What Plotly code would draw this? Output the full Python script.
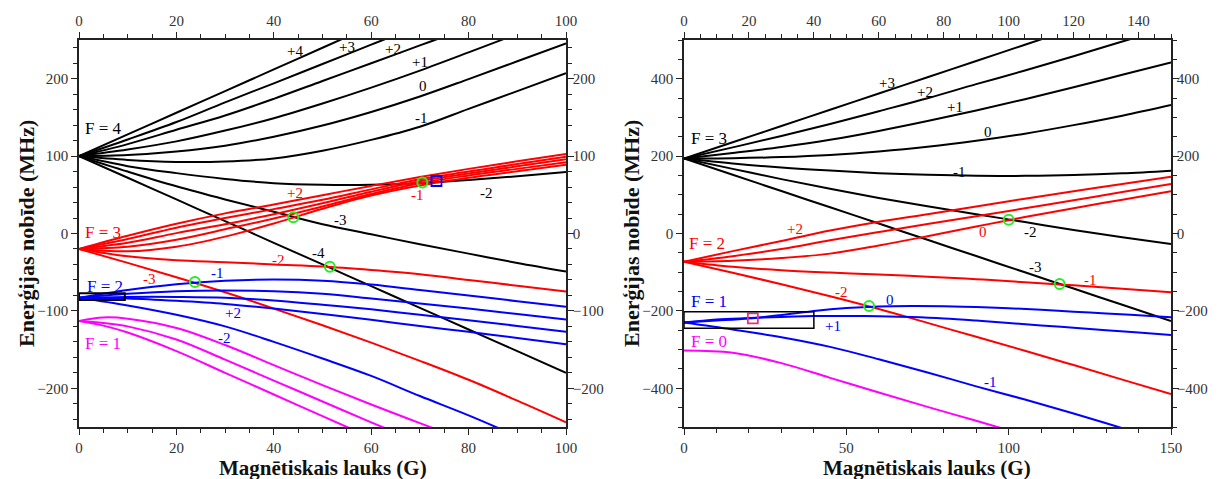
import plotly.graph_objects as go

# ---------------- LEFT PANEL DATA (field in G, energy in MHz) ----------------
B_L = [0, 10, 20, 30, 40, 50, 60, 70, 80, 90, 100]
L_F4_m = ["+4", "+3", "+2", "+1", "0", "-1", "-2", "-3", "-4"]
L_F4 = [
    [100, 128, 156, 184, 212, 240, 268, 296, 324, 352, 380],
    [100, 121.5, 144, 169.5, 194, 219, 244, 269, 296, 323, 350],
    [100, 115.5, 134, 152.5, 174, 197, 220, 243, 266, 290, 314],
    [100, 108.5, 119, 133, 149, 168, 188.5, 210.5, 234, 258, 282],
    [100, 101.5, 106, 113.5, 125, 139.5, 157, 177, 199.5, 222.5, 245.7],
    [100, 95, 92.5, 93, 97, 107, 121, 138, 161, 184, 207],
    [100, 87, 78, 70.5, 65, 63, 63, 65, 69, 74, 79.5],
    [100, 80, 61, 44, 28, 12, -1, -14, -26, -38, -49],
    [100, 72, 44, 16, -12, -40, -68, -96, -124, -152, -180],
]
L_F3_m = ["+3", "+2", "+1", "0", "-1", "-2", "-3"]
L_F3 = [
    [-20, -3, 12.5, 26, 37.5, 49.5, 61.5, 73, 83.5, 93.3, 102.7],
    [-20, -7, 7.5, 20, 31.5, 43.5, 57, 70, 80, 89.8, 99.2],
    [-20, -12, 0.5, 12, 25, 39, 54, 67.5, 77.5, 86.8, 95.9],
    [-20, -17, -8, 5.5, 19.5, 35, 51, 65, 75, 83.5, 92],
    [-20, -23, -17, -4, 13, 32, 49, 62, 72, 80.5, 88.9],
    [-20, -29.5, -34.5, -37, -40, -42.5, -47, -52.5, -60, -67.5, -75],
    [-20, -38, -56.5, -76, -97, -118.5, -141, -164.5, -189, -216, -244],
]
L_F2_m = ["-1", "0", "+1", "+2", "-2"]
L_F2 = [
    [-83, -73, -65.5, -61, -59.5, -61, -66, -73, -80, -87.5, -94.5],
    [-83, -78, -74.5, -73.5, -74.5, -78, -84, -90.5, -97, -104, -111],
    [-83, -82, -82, -83, -86.5, -92, -98, -105, -112, -119.5, -127],
    [-83, -84, -87, -91, -97, -104, -111.5, -119.5, -127, -135, -143],
    [-83, -93, -105, -120, -140, -161.5, -184, -210, -235, -262, -290],
]
B_L_F1 = [0, 5, 10, 20, 30, 40, 50, 60, 70, 80]
L_F1 = [
    [-113, -108.5, -110, -122, -144, -170, -196, -221, -245, -269],
    [-113, -115.5, -120, -137, -163, -190, -217, -244, -270, -296],
    [-113, -119, -128, -152, -180, -208, -236, -264, -292, -320],
]
L_circles_B = [23.8, 44.0, 51.5, 70.5]
L_circles_E = [-62.7, 20.9, -42.9, 66]
L_square_B = [73.4]
L_square_E = [67.8]
L_rect = [0, 9.4, -86, -77.3]

# ---------------- RIGHT PANEL DATA ----------------
B_R = [0, 15, 30, 45, 60, 75, 90, 105, 120, 135, 150]
R_F3_m = ["+3", "+2", "+1", "0", "-1", "-2", "-3"]
R_F3 = [
    [193.7, 235.7, 277.7, 319.7, 361.7, 403.7, 445.7, 487.7, 529.7, 571.7, 613.7],
    [193.7, 222.5, 252, 283, 316, 349.5, 386, 421, 458, 496, 534],
    [193.7, 208, 223.5, 242, 265, 290.5, 318, 347, 378, 410, 442],
    [193.7, 194.5, 197.5, 203, 212, 224, 239.5, 258, 280, 304.5, 332],
    [193.7, 181, 170.5, 162.5, 156, 151.5, 149, 149, 151, 155.5, 162.4],
    [193.7, 167, 140.5, 115.5, 92, 70.5, 50, 29.5, 9, -9.5, -27],
    [193.7, 151.7, 109.7, 67.7, 25.7, -16.3, -58.3, -100.3, -142.3, -184.3, -226.3],
]
R_F2_m = ["+2", "+1", "0", "-1", "-2"]
R_F2 = [
    [-72.9, -45.5, -19.5, 7.5, 30.5, 50, 70, 90, 109, 128, 146.8],
    [-72.9, -58.5, -40, -17.5, 3.7, 24.3, 44.8, 65, 86, 107, 127.9],
    [-72.9, -70.5, -63.5, -52, -31, -7, 18, 42.5, 65.5, 87.5, 109],
    [-72.9, -86, -95, -101, -106, -111.5, -118, -126, -134, -143, -152],
    [-72.9, -101.5, -131, -162, -195, -231, -267, -303, -340, -377.5, -414.7],
]
B_R_F1 = [0, 10, 20, 30, 40, 50, 60, 70, 80, 90, 100, 110, 120, 130, 140, 150]
R_F1_p1 = [-229.9, -222, -218.5, -215.5, -213.5, -213, -214, -216, -219.5, -225, -231.5, -237.5, -243.5, -250, -256, -262.3]
R_F1_0 = [-229.9, -225, -219.5, -210.5, -200, -192.5, -188.5, -187.5, -188, -190, -193, -197, -202, -206.5, -211.5, -216.6]
R_F1_m1 = [-229.9, -248, -268, -293, -325, -359, -395, -429, -465, -503, -541]
R_F0 = [-302.1, -308, -335, -373, -411, -448, -484, -521, -558, -595, -632]
R_circles_B = [57, 100, 115.7]
R_circles_E = [-187.3, 35.5, -130.5]
R_square_B = [21.2]
R_square_E = [-219.1]
R_rect = [0, 40, -245, -202]

BLACK, RED, BLUE, MAG = "#000000", "#ff0000", "#0000ff", "#ff00ff"
FONT = "Liberation Serif"
# the page body has an 8 px margin, so the figure is 8 px smaller and all
# pixel positions below are taken from the window and shifted by 8 px
OFF = 8
W, H = 1218 - OFF, 479 - OFF

fig = go.Figure()


def curve(xs, ys, color, xa, ya):
    fig.add_trace(go.Scatter(x=xs, y=ys, mode="lines", xaxis=xa, yaxis=ya,
                             line=dict(color=color, width=2, shape="spline", smoothing=1.0),
                             showlegend=False, hoverinfo="skip"))


for ys in L_F4:
    curve(B_L, ys, BLACK, "x", "y")
for ys in L_F3:
    curve(B_L, ys, RED, "x", "y")
for ys in L_F2:
    curve(B_L, ys, BLUE, "x", "y")
for ys in L_F1:
    curve(B_L_F1, ys, MAG, "x", "y")

for ys in R_F3:
    curve(B_R, ys, BLACK, "x2", "y2")
for ys in R_F2:
    curve(B_R, ys, RED, "x2", "y2")
curve(B_R_F1, R_F1_p1, BLUE, "x2", "y2")
curve(B_R_F1, R_F1_0, BLUE, "x2", "y2")
curve(B_R, R_F1_m1, BLUE, "x2", "y2")
curve(B_R, R_F0, MAG, "x2", "y2")

# markers
fig.add_trace(go.Scatter(x=L_circles_B, y=L_circles_E, mode="markers", xaxis="x", yaxis="y",
                         marker=dict(symbol="circle-open", size=10, color="#22ee22", line=dict(width=2)),
                         showlegend=False, hoverinfo="skip"))
fig.add_trace(go.Scatter(x=L_square_B, y=L_square_E, mode="markers", xaxis="x", yaxis="y",
                         marker=dict(symbol="square-open", size=10, color=BLUE, line=dict(width=1.8)),
                         showlegend=False, hoverinfo="skip"))
fig.add_trace(go.Scatter(x=R_circles_B, y=R_circles_E, mode="markers", xaxis="x2", yaxis="y2",
                         marker=dict(symbol="circle-open", size=10, color="#22ee22", line=dict(width=2)),
                         showlegend=False, hoverinfo="skip"))
fig.add_trace(go.Scatter(x=R_square_B, y=R_square_E, mode="markers", xaxis="x2", yaxis="y2",
                         marker=dict(symbol="square-open", size=10, color="#e8307a", line=dict(width=1.8)),
                         showlegend=False, hoverinfo="skip"))

# dummy traces for mirrored axes with labels
for xa, ya in (("x3", "y3"), ("x4", "y4")):
    fig.add_trace(go.Scatter(x=[0], y=[0], xaxis=xa, yaxis=ya, mode="markers",
                             marker=dict(opacity=0), showlegend=False, hoverinfo="skip"))

fig.add_shape(type="rect", xref="x", yref="y", x0=L_rect[0], x1=L_rect[1], y0=L_rect[2], y1=L_rect[3],
              line=dict(color=BLACK, width=2))
fig.add_shape(type="rect", xref="x2", yref="y2", x0=R_rect[0], x1=R_rect[1], y0=R_rect[2], y1=R_rect[3],
              line=dict(color=BLACK, width=1.5))

# ---------------- axes ----------------
px = lambda v: (v - OFF) / W
py = lambda v: 1 - (v - OFF) / H
LX = [px(79), px(566)]
RX = [px(684), px(1171)]
YD = [py(427), py(40)]
tickfont = dict(family=FONT, size=15, color="#333")
common = dict(showgrid=False, zeroline=False, showline=True, linecolor="#222", linewidth=1.5,
              ticks="outside", ticklen=6, tickwidth=1.2, tickcolor="#222", tickfont=tickfont,
              automargin=False)


def minor(d):
    return dict(dtick=d, ticklen=4, ticks="outside", tickcolor="#222", tickwidth=1, showgrid=False)


fig.update_layout(
    width=W, height=H, margin=dict(l=0, r=0, t=0, b=0),
    paper_bgcolor="white", plot_bgcolor="white", showlegend=False,
    xaxis=dict(domain=LX, range=[0, 100], anchor="y", dtick=20, minor=minor(5), **common),
    xaxis3=dict(overlaying="x", side="top", range=[0, 100], anchor="y", dtick=20, minor=minor(5), **common),
    yaxis=dict(domain=YD, range=[-250, 250], anchor="x", dtick=100, minor=minor(20), **common),
    yaxis3=dict(overlaying="y", side="right", range=[-250, 250], anchor="x", dtick=100, minor=minor(20),
                ticklabelstandoff=-4, **common),
    xaxis2=dict(domain=RX, range=[0, 150], anchor="y2", dtick=50, minor=minor(10), **common),
    xaxis4=dict(overlaying="x2", side="top", range=[0, 150], anchor="y2", dtick=20, minor=minor(5), **common),
    yaxis2=dict(domain=YD, range=[-500, 500], anchor="x2", dtick=200, minor=minor(50), **common),
    yaxis4=dict(overlaying="y2", side="right", range=[-500, 500], anchor="x2", dtick=200, minor=minor(50),
                ticklabelstandoff=-5, **common),
)

# ---------------- labels ----------------
ann = []


def lab(x, y, t, color, xr, yr, size=15):
    ann.append(dict(x=x, y=y, xref=xr, yref=yr, text=t, showarrow=False,
                    font=dict(family=FONT, size=size, color=color)))


# left panel labels
L_F4_pos = [(44.4, 236), (55, 241), (64.5, 238), (70, 222), (70.7, 190), (70.4, 149), (83.7, 52), (53.6, 17), (49.1, -25)]
for (x, y), t in zip(L_F4_pos, L_F4_m):
    lab(x, y, t, BLACK, "x", "y")
lab(44.4, 52, "+2", RED, "x", "y")
lab(69.5, 50, "-1", RED, "x", "y")
lab(40.9, -34, "-2", RED, "x", "y")
lab(14.5, -59, "-3", RED, "x", "y")
lab(28.5, -51, "-1", BLUE, "x", "y")
lab(31.6, -103, "+2", BLUE, "x", "y")
lab(29.9, -135, "-2", BLUE, "x", "y")
lab(5.0, 136, "F = 4", BLACK, "x", "y", 17)
lab(4.9, 1, "F = 3", RED, "x", "y", 17)
lab(5.3, -69, "F = 2", BLUE, "x", "y", 17)
lab(4.9, -142, "F = 1", MAG, "x", "y", 17)

# right panel labels
R_F3_pos = [(62.5, 388), (74.3, 366), (83.5, 326), (93.6, 263), (85, 160), (106.6, 5), (108.2, -86)]
for (x, y), t in zip(R_F3_pos, R_F3_m):
    lab(x, y, t, BLACK, "x2", "y2")
lab(34.2, 12, "+2", RED, "x2", "y2")
lab(92, 5, "0", RED, "x2", "y2")
lab(48.6, -152, "-2", RED, "x2", "y2")
lab(125.1, -120, "-1", RED, "x2", "y2")
lab(63.5, -172, "0", BLUE, "x2", "y2")
lab(46, -238, "+1", BLUE, "x2", "y2")
lab(94.3, -383, "-1", BLUE, "x2", "y2")
lab(7.7, 246, "F = 3", BLACK, "x2", "y2", 17)
lab(7.2, -25, "F = 2", RED, "x2", "y2", 17)
lab(7.7, -176, "F = 1", BLUE, "x2", "y2", 17)
lab(7.7, -278, "F = 0", MAG, "x2", "y2", 17)

# axis titles
TF = dict(family=FONT, size=21, color="#111")
for xc in (323, 927):
    ann.append(dict(x=px(xc), y=py(467.5), xref="paper", yref="paper", text="<b>Magnētiskais lauks (G)</b>",
                    showarrow=False, font=TF, xanchor="center", yanchor="middle"))
for xc in (26, 631):
    ann.append(dict(x=px(xc), y=py(234), xref="paper", yref="paper", text="<b>Enerģijas nobīde (MHz)</b>",
                    showarrow=False, font=dict(family=FONT, size=22, color="#111"), textangle=-90,
                    xanchor="center", yanchor="middle"))

fig.update_layout(annotations=ann)
fig.write_html("out.html")
